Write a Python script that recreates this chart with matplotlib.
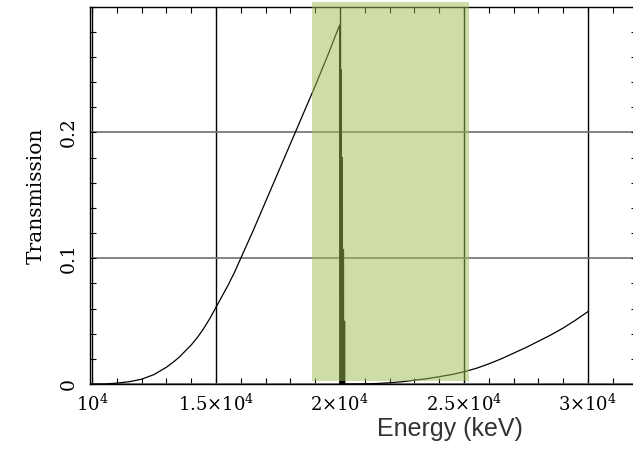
import numpy as np
import matplotlib
matplotlib.use("Agg")
import matplotlib.pyplot as plt
from matplotlib.ticker import MultipleLocator
from matplotlib.patches import Rectangle

plt.rcParams['mathtext.fontset'] = 'dejavuserif'

# transmission curve (energy in keV)
energy_low = [10000, 10500, 11000, 11500, 12000, 12500, 13000, 13250, 13500,
              13750, 14000, 14250, 14500, 14750, 15000, 15250, 15500, 15750,
              16000, 16500, 17000, 17500, 18000, 18500, 19000, 19500, 19985]
trans_low = [0.0, 0.0, 0.0007, 0.0018, 0.0038, 0.0075, 0.0133, 0.017, 0.021,
             0.026, 0.031, 0.037, 0.044, 0.052, 0.061, 0.07, 0.079, 0.089,
             0.1, 0.122, 0.145, 0.168, 0.191, 0.214, 0.237, 0.261, 0.2854]

# oscillations right after the edge
energy_edge = [19990, 20040, 20045, 20050, 20085, 20090, 20095, 20135, 20140,
               20145, 20180, 20185, 20190]
trans_edge = [0.0, 0.0, 0.25, 0.0, 0.0, 0.18, 0.0, 0.0, 0.107, 0.0, 0.0, 0.05, 0.0]

energy_high = [20300, 21000, 21500, 22000, 22500, 23000, 23500, 24000, 24500,
               25000, 25500, 26000, 26500, 27000, 27500, 28000, 28500, 29000,
               29500, 30000]
trans_high = [0.0, 0.0001, 0.0004, 0.001, 0.0018, 0.003, 0.0042, 0.0058,
              0.0075, 0.0097, 0.0125, 0.016, 0.02, 0.0245, 0.029, 0.034, 0.039,
              0.0445, 0.0508, 0.0576]

# highlighted band
band_lo, band_hi = 18870, 25200
band_bottom, band_top = 0.0026, 0.3037

xtick_vals = [10000, 15000, 20000, 25000, 30000]
xtick_text = [r'$10^4$', r'$1.5{\times}10^4$', r'$2{\times}10^4$',
              r'$2.5{\times}10^4$', r'$3{\times}10^4$']
ytick_vals = [0, 0.1, 0.2]
ytick_text = ['0', '0.1', '0.2']

energy = energy_low + energy_edge + energy_high
trans = trans_low + trans_edge + trans_high

fig = plt.figure(figsize=(6.33, 4.59), dpi=100)
ax = fig.add_axes([90/633, 1-384/459, 547/633, 377.3/459])

ax.plot(energy, trans, color='black', lw=0.9, zorder=3)

ax.set_xlim(9920, 31976)
ax.set_ylim(0, 0.3)

ax.set_xticks(xtick_vals)
ax.set_xticklabels(xtick_text)
ax.xaxis.set_minor_locator(MultipleLocator(1000))
ax.set_yticks(ytick_vals)
ax.set_yticklabels(ytick_text, rotation=90, va='center', family='DejaVu Serif')
ax.yaxis.set_minor_locator(MultipleLocator(0.02))

ax.tick_params(which='both', direction='in', top=True, right=True,
               length=4, width=0.8, color='black')
ax.tick_params(axis='x', labelsize=13, pad=7)
ax.tick_params(axis='y', labelsize=13.5, pad=9)

ax.grid(axis='x', which='major', color='black', lw=1.0)
ax.grid(axis='y', which='major', color='#707070', lw=1.2)
for s in ax.spines.values():
    s.set_linewidth(1.0)

band = Rectangle((band_lo, band_bottom), band_hi - band_lo, band_top - band_bottom,
                 facecolor=(0.62, 0.74, 0.32), alpha=0.5, edgecolor='none',
                 zorder=10, clip_on=False)
ax.add_patch(band)

ax.set_ylabel('Transmission', family='DejaVu Serif', fontsize=14.5, labelpad=10)
fig.text(450/633, 1-429/459, 'Energy (keV)', family='Liberation Sans',
         fontsize=18, color='#333333', ha='center', va='center')

fig.savefig('out.png', dpi=100)
